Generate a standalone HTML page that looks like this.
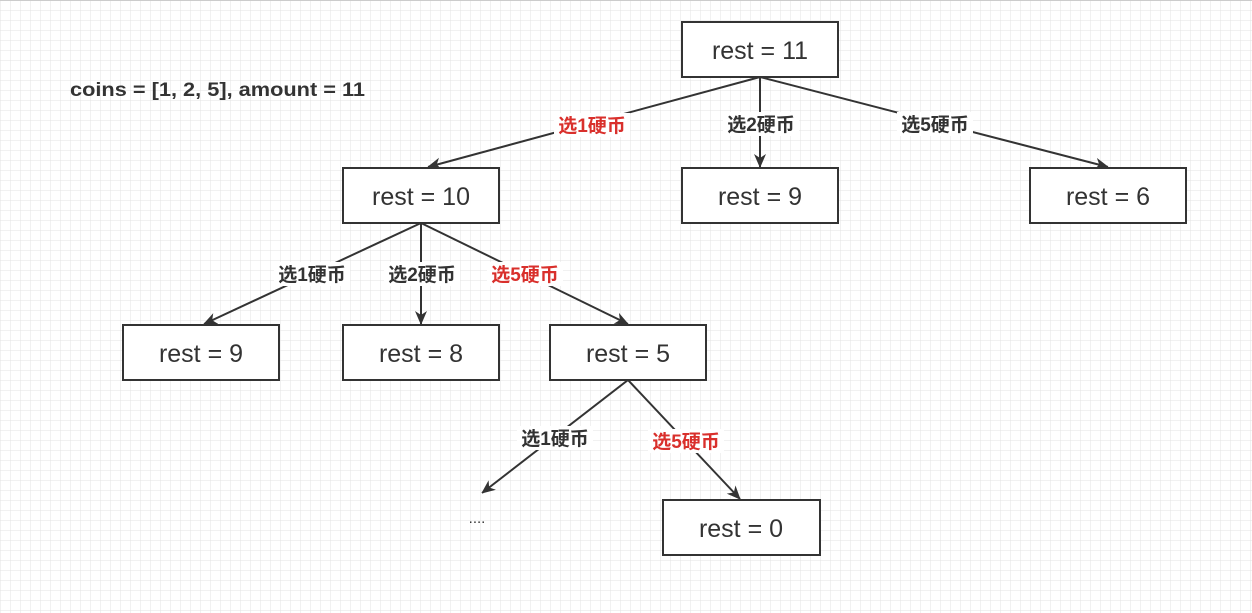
<!DOCTYPE html>
<html><head><meta charset="utf-8"><style>
html,body{margin:0;padding:0;background:#fff}
svg{display:block}
text{font-family:"Liberation Sans","Noto Sans CJK SC",sans-serif}
</style></head><body>
<svg width="1252" height="613" viewBox="0 0 1252 613" xmlns="http://www.w3.org/2000/svg">
<defs>
<pattern id="g" width="10" height="10" patternUnits="userSpaceOnUse" x="1" y="1">
<path d="M10 0V10M0 10H10" fill="none" stroke="#e3e3e3" stroke-width="1"/>
</pattern>
<marker id="a" markerWidth="12" markerHeight="14" refX="13" refY="6" orient="auto" markerUnits="userSpaceOnUse">
<path d="M0 0L14 6L0 12L4 6Z" fill="#333"/>
</marker>
</defs>
<rect width="1252" height="613" fill="url(#g)"/>
<line x1="0" y1="0.5" x2="1252" y2="0.5" stroke="#ccc"/>
<g stroke="#333" stroke-width="2" fill="none" marker-end="url(#a)">
<line x1="760" y1="77" x2="428" y2="167"/>
<line x1="760" y1="77" x2="760" y2="167"/>
<line x1="760" y1="77" x2="1108" y2="167"/>
<line x1="421" y1="223" x2="204" y2="324"/>
<line x1="421" y1="223" x2="421" y2="324"/>
<line x1="421" y1="223" x2="628" y2="324"/>
<line x1="628" y1="380" x2="482" y2="493"/>
<line x1="628" y1="380" x2="740" y2="499"/>
</g>
<g fill="#fff" stroke="#333" stroke-width="2">
<rect x="682" y="22" width="156" height="55"/>
<rect x="343" y="168" width="156" height="55"/>
<rect x="682" y="168" width="156" height="55"/>
<rect x="1030" y="168" width="156" height="55"/>
<rect x="123" y="325" width="156" height="55"/>
<rect x="343" y="325" width="156" height="55"/>
<rect x="550" y="325" width="156" height="55"/>
<rect x="663" y="500" width="157" height="55"/>
</g>
<g font-size="25" fill="#333" text-anchor="middle">
<text x="760" y="59">rest = 11</text>
<text x="421" y="205">rest = 10</text>
<text x="760" y="205">rest = 9</text>
<text x="1108" y="205">rest = 6</text>
<text x="201" y="362">rest = 9</text>
<text x="421" y="362">rest = 8</text>
<text x="628" y="362">rest = 5</text>
<text x="741" y="537">rest = 0</text>
</g>
<g font-size="19" font-weight="bold" text-anchor="middle">
<g fill="#fff">
<rect x="554" y="113" width="76" height="24"/>
<rect x="723" y="112" width="76" height="24"/>
<rect x="897" y="112" width="76" height="24"/>
<rect x="274" y="262" width="76" height="24"/>
<rect x="384" y="262" width="76" height="24"/>
<rect x="487" y="262" width="76" height="24"/>
<rect x="517" y="426" width="76" height="24"/>
<rect x="648" y="429" width="76" height="24"/>
</g>
<text x="592" y="132" fill="#d9302c">选1硬币</text>
<text x="761" y="131" fill="#333">选2硬币</text>
<text x="935" y="131" fill="#333">选5硬币</text>
<text x="312" y="281" fill="#333">选1硬币</text>
<text x="422" y="281" fill="#333">选2硬币</text>
<text x="525" y="281" fill="#d9302c">选5硬币</text>
<text x="555" y="445" fill="#333">选1硬币</text>
<text x="686" y="448" fill="#d9302c">选5硬币</text>
</g>
<text x="70" y="96" font-size="19" font-weight="bold" fill="#333" textLength="295" lengthAdjust="spacingAndGlyphs">coins = [1, 2, 5], amount = 11</text>
<text x="477" y="523" font-size="15" fill="#333" text-anchor="middle">....</text>
</svg>
</body></html>
